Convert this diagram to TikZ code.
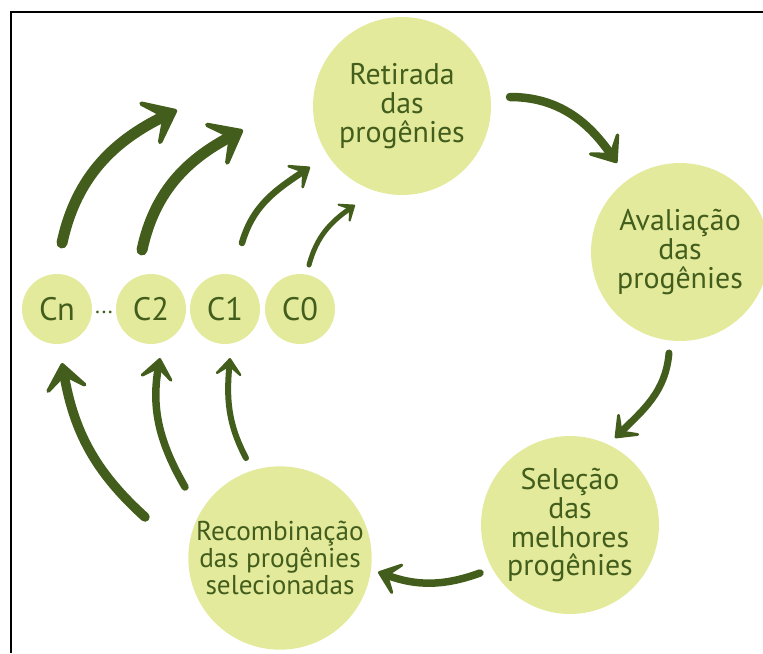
\documentclass[tikz,border=0pt]{standalone}
\usepackage{fontspec}
\setmainfont{PT Sans}
\usetikzlibrary{arrows.meta}
\definecolor{leaf}{HTML}{435E1C}
\definecolor{pale}{HTML}{E3EA9C}
\tikzset{
  stage/.style={circle,fill=pale,text=leaf,minimum size=3.56cm,inner sep=0pt,align=center,font=\fontsize{17}{16.5}\selectfont},
  gen/.style={circle,fill=pale,text=leaf,minimum size=1.4cm,inner sep=0pt,font=\fontsize{18.5}{18}\selectfont},
  hand/.style={draw=leaf,line cap=round,line width=#1,-{Stealth[length=0pt 3.8,width=0pt 6,inset=0pt 2.2,round]}}
}
\begin{document}
\begin{tikzpicture}[x=0.02cm,y=0.02cm]
\useasboundingbox (0,0) rectangle (763,-653);
\draw[line width=2.2*0.02cm] (11,-653) -- (11,-12) -- (763,-12);
% the four stages of the cycle
\node (ret) at (402,-106) [stage] {Retirada\\das\\progênies};
\node (ava) at (680,-252) [stage] {Avaliação\\das\\progênies};
\node (sel) at (570,-525) [stage] {Seleção\\das\\melhores\\progênies};
\node (rec) at (280,-558) [stage,font=\fontsize{15.5}{15.5}\selectfont] {Recombinação\\das progênies\\selecionadas};
% cycles
\node (cn) at (57,-309) [gen] {Cn};
\node (c2) at (151,-309) [gen] {C2};
\node (c1) at (225,-309) [gen] {C1};
\node (c0) at (300,-309) [gen] {C0};
\node (dots) at (104,-312) [text=leaf,font=\fontsize{13}{13}\selectfont] {...};
% free ends of the arrows
\coordinate (a0) at (62,-243);  \coordinate (a1) at (177,-110);
\coordinate (b0) at (142,-250); \coordinate (b1) at (243,-130);
\coordinate (d0) at (242,-243); \coordinate (d1) at (310,-167);
\coordinate (e0) at (309,-265); \coordinate (e1) at (355,-205);
\coordinate (f0) at (145,-517); \coordinate (f1) at (62,-363);
\coordinate (g0) at (185,-487); \coordinate (g1) at (160,-358);
\coordinate (h0) at (246,-458); \coordinate (h1) at (230,-358);
\coordinate (r0) at (510,-97);  \coordinate (r1) at (617,-163);
\coordinate (v0) at (669,-353); \coordinate (v1) at (615,-438);
\coordinate (s0) at (480,-573); \coordinate (s1) at (378,-572);
\draw[hand=0.22cm] (a0) to[out=78,in=206] (a1);
\draw[hand=0.22cm] (b0) to[out=78,in=208] (b1);
\draw[hand=0.13cm] (d0) to[out=74,in=214] (d1);
\draw[hand=0.1cm] (e0) to[out=75,in=215] (e1);
\draw[hand=0.19cm] (f0) to[out=138,in=-80] (f1);
\draw[hand=0.15cm] (g0) to[out=120,in=-100] (g1);
\draw[hand=0.12cm] (h0) to[out=118,in=-95] (h1);
\draw[hand=0.17cm] (r0) to[out=0,in=125] (r1);
\draw[hand=0.14cm] (v0) to[out=-95,in=45] (v1);
\draw[hand=0.15cm] (s0) to[out=200,in=-20] (s1);
\end{tikzpicture}
\end{document}
